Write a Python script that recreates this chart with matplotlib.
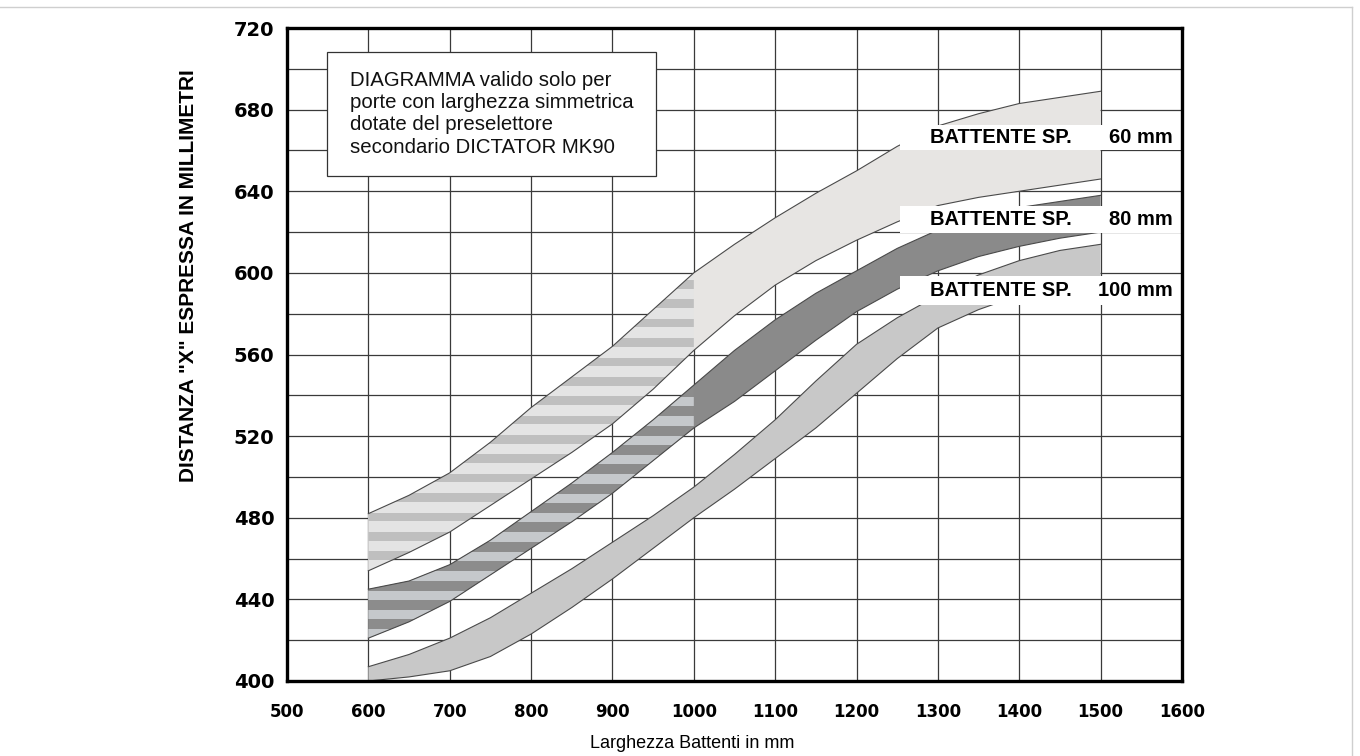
import numpy as np
import matplotlib
matplotlib.use("Agg")
import matplotlib.pyplot as plt
import matplotlib.font_manager as fm
from matplotlib.patches import Polygon, Rectangle
from matplotlib.lines import Line2D

# ---------------- data ----------------
x_pts = [600, 650, 700, 750, 800, 850, 900, 950, 1000, 1050, 1100, 1150,
         1200, 1250, 1300, 1350, 1400, 1450, 1500]

sp60_upper = [482, 491, 502, 517, 534, 549, 564, 582, 600, 614, 627, 639,
              650, 662, 672, 678, 683, 686, 689]
sp60_lower = [454, 463, 473, 486, 499, 512, 526, 543, 562, 579, 594, 606,
              616, 625, 633, 637, 640, 643, 646]

sp80_upper = [445, 449, 457, 469, 483, 497, 512, 528, 545, 562, 577, 590,
              601, 612, 621, 627, 632, 635, 638]
sp80_lower = [421, 429, 439, 452, 465, 478, 492, 508, 524, 537, 552, 567,
              581, 592, 601, 608, 613, 617, 620]

sp100_upper = [407, 413, 421, 431, 443, 455, 468, 481, 495, 511, 528, 547,
               565, 578, 589, 599, 606, 611, 614]
sp100_lower = [400, 402, 405, 412, 423, 436, 450, 465, 480, 494, 509, 524,
               541, 558, 573, 582, 589, 592, 595]

band_labels = ["BATTENTE SP.", "BATTENTE SP.", "BATTENTE SP."]
band_sizes = ["60 mm", "80 mm", "100 mm"]
x_ticks = list(range(500, 1601, 100))
y_ticks = list(range(400, 721, 40))
y_minor = list(range(400, 721, 20))
note_text = ("DIAGRAMMA valido solo per\nporte con larghezza simmetrica\n"
             "dotate del preselettore\nsecondario DICTATOR MK90")
x_title = "Larghezza Battenti in mm"
y_title = 'DISTANZA "X" ESPRESSA IN MILLIMETRI'

# ---------------- fonts ----------------
_names = {f.name for f in fm.fontManager.ttflist}
NARROW = "Liberation Sans Narrow" if "Liberation Sans Narrow" in _names else None
SANS = "Liberation Sans"

# ---------------- figure ----------------
fig = plt.figure(figsize=(13.6, 7.56), dpi=100)
fig.patch.set_facecolor("white")
ax = fig.add_axes([287 / 1360, 75 / 756, 895 / 1360, 653 / 756])
ax.set_xlim(500, 1600)
ax.set_ylim(400, 720)

# grid
ax.set_xticks(x_ticks)
ax.set_yticks(y_ticks)
ax.set_yticks(y_minor, minor=True)
ax.grid(which="both", color="#3a3a3a", lw=0.9, zorder=0.5)
ax.set_axisbelow(True)
ax.tick_params(which="both", length=0)
ax.tick_params(axis="x", pad=16)
ax.tick_params(axis="y", pad=9)
for lab in ax.get_xticklabels():
    lab.set_fontfamily("DejaVu Sans")
    lab.set_fontweight("bold")
    lab.set_fontsize(12)
for lab in ax.get_yticklabels():
    lab.set_fontfamily("DejaVu Sans")
    lab.set_fontweight("bold")
    lab.set_fontsize(14)

for sp in ax.spines.values():
    sp.set_linewidth(2.4)
    sp.set_color("black")
    sp.set_zorder(10)

x_arr = np.array(x_pts, dtype=float)


def band(upper, lower, solid_col, stripe_base=None, stripe_col=None,
         stripe_centers=None, stripe_h=4.0):
    up = np.array(upper, dtype=float)
    lo = np.array(lower, dtype=float)
    verts = list(zip(x_arr, up)) + list(zip(x_arr[::-1], lo[::-1]))
    poly = Polygon(verts, closed=True, facecolor=solid_col, edgecolor="none",
                   zorder=2)
    ax.add_patch(poly)
    if stripe_base is not None:
        m = x_arr <= 1000
        sv = list(zip(x_arr[m], up[m])) + list(zip(x_arr[m][::-1], lo[m][::-1]))
        spoly = Polygon(sv, closed=True, facecolor=stripe_base,
                        edgecolor="none", zorder=2.1)
        ax.add_patch(spoly)
        for c in stripe_centers:
            r = Rectangle((600, c - stripe_h / 2), 400, stripe_h,
                          facecolor=stripe_col, edgecolor="none", zorder=2.2)
            ax.add_patch(r)
            r.set_clip_path(spoly)
    ax.plot(x_arr, up, color="#4a4a4a", lw=0.8, zorder=3)
    ax.plot(x_arr, lo, color="#4a4a4a", lw=0.8, zorder=3)


period = 9.5
band(sp60_upper, sp60_lower, "#e7e5e3", "#e4e4e4", "#bfbfbf",
     np.arange(594.4, 440, -period), 4.2)
band(sp80_upper, sp80_lower, "#8a8a8a", "#8c8c8c", "#c5c8cb",
     np.arange(537.0, 410, -period), 4.6)
band(sp100_upper, sp100_lower, "#c8c8c8")

# label boxes
box_y = [(660.2, 672.5), (619.5, 632.8), (584.3, 598.5)]
for (y0, y1), lab, size in zip(box_y, band_labels, band_sizes):
    ax.add_patch(Rectangle((1253, y0), 1600 - 1253, y1 - y0,
                           facecolor="white", edgecolor="none", zorder=4))
    yc = (y0 + y1) / 2
    ax.text(1290, yc, lab, ha="left", va="center", family=SANS,
            fontweight="bold", fontsize=14.5, zorder=5)
    ax.text(1589, yc, size, ha="right", va="center", family=SANS,
            fontweight="bold", fontsize=14.5, zorder=5)

# note box
ax.add_patch(Rectangle((549.2, 647.5), 953.5 - 549.2, 708.2 - 647.5,
                       facecolor="white", edgecolor="#333333", lw=0.9,
                       zorder=4))
ax.text(577, 678, note_text, ha="left", va="center", family=SANS,
        fontsize=14.7, linespacing=1.22, color="#111111", zorder=5)

# axis titles
ax.set_ylabel(y_title, family=SANS, fontweight="bold", fontsize=15)
ax.yaxis.set_label_coords((188 - 287) / 895, (681 - 276) / 653)
ax.yaxis.label.set_va("center")
if NARROW:
    ax.set_xlabel(x_title, family=NARROW, fontsize=15)
else:
    ax.set_xlabel(x_title, family=SANS, fontsize=13)
ax.xaxis.set_label_coords((692 - 287) / 895, (681 - 743) / 653)
ax.xaxis.label.set_va("center")

# faint outer frame
fig.add_artist(Line2D([0, 1352 / 1360], [1 - 7 / 756, 1 - 7 / 756],
                      transform=fig.transFigure, color="#cfcfcf", lw=1))
fig.add_artist(Line2D([1352 / 1360, 1352 / 1360], [0, 1 - 7 / 756],
                      transform=fig.transFigure, color="#cfcfcf", lw=1))

fig.savefig("out.png", dpi=100)
